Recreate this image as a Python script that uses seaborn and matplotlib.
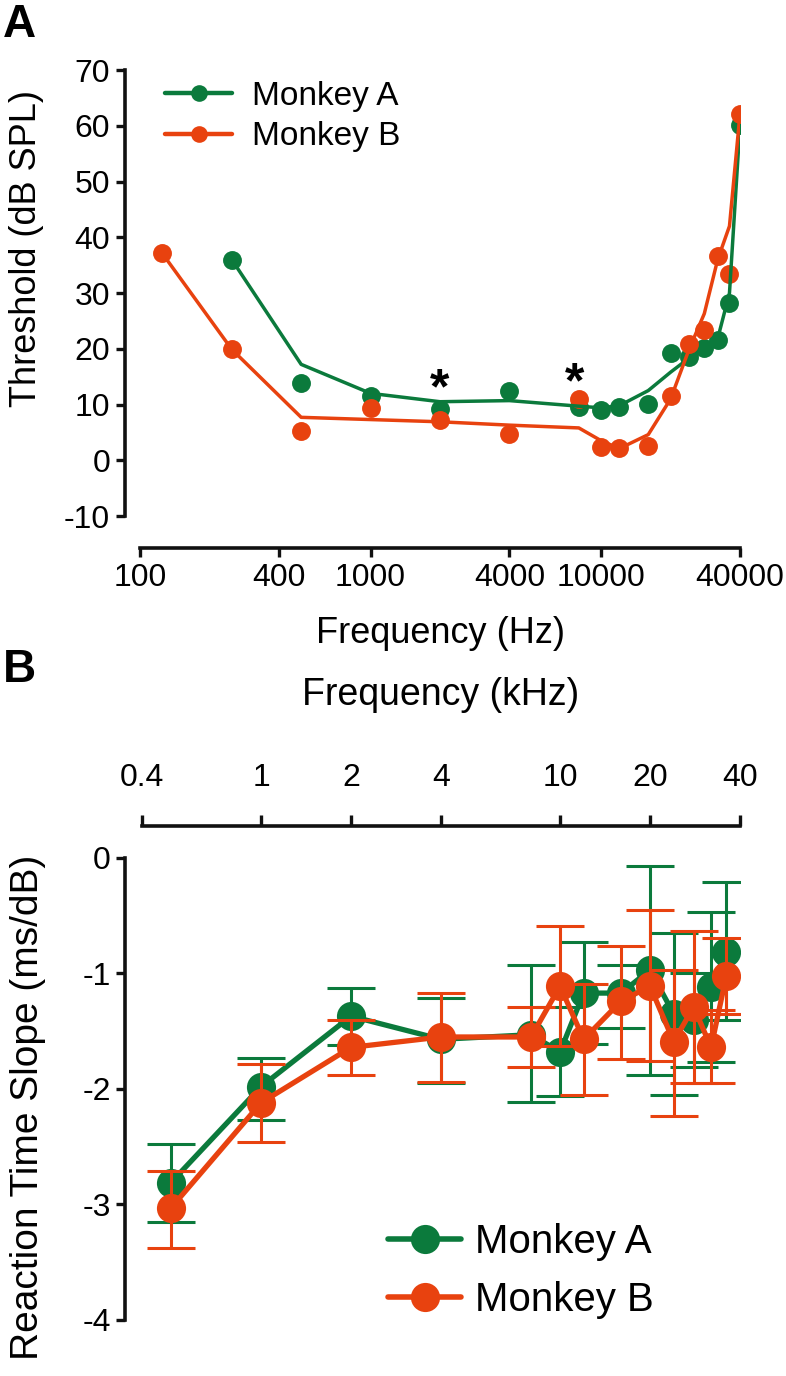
import numpy as np
import matplotlib
matplotlib.use("Agg")
import matplotlib.pyplot as plt
import seaborn as sns
from matplotlib.lines import Line2D
from matplotlib.ticker import FixedLocator, FixedFormatter, NullLocator

green = "#0b7a3c"
orange = "#e8420f"
ink = "#111111"

# ---- panel A: behavioural thresholds (dB SPL) ----
freq_a_green = [250, 500, 1000, 2000, 4000, 8000, 10000, 12000, 16000,
                20000, 24000, 28000, 32000, 36000, 40000]
thr_a_green = [36.0, 13.9, 11.5, 9.2, 12.5, 9.6, 9.1, 9.5, 10.1,
               19.3, 18.5, 20.2, 21.6, 28.2, 60.2]
fit_a_green = [36.0, 17.2, 12.0, 10.5, 10.7, 9.7, 9.4, 9.8, 12.5,
               15.8, 18.3, 19.8, 21.8, 30.0, 60.2]

freq_a_orange = [125, 250, 500, 1000, 2000, 4000, 8000, 10000, 12000,
                 16000, 20000, 24000, 28000, 32000, 36000, 40000]
thr_a_orange = [37.1, 19.9, 5.2, 9.4, 7.3, 4.7, 11.0, 2.4, 2.2,
                2.5, 11.5, 20.9, 23.3, 36.6, 33.4, 62.2]
fit_a_orange = [37.1, 19.9, 7.7, 7.3, 6.9, 6.3, 5.8, 3.5, 2.1,
                4.6, 11.0, 19.8, 26.3, 36.0, 42.0, 62.2]

star_freqs = [2000, 7700]
star_levels = [12.6, 13.6]

xticks_a = [100, 400, 1000, 4000, 10000, 40000]
yticks_a = [-10, 0, 10, 20, 30, 40, 50, 60, 70]

# ---- panel B: reaction time slope (ms/dB) ----
freq_b = [0.5, 1, 2, 4, 8, 10, 12, 16, 20, 24, 28, 32, 36]
slope_green = [-2.81, -1.98, -1.37, -1.57, -1.53, -1.68, -1.17, -1.17,
               -0.97, -1.35, -1.40, -1.12, -0.81]
low_green = [-3.15, -2.27, -1.62, -1.95, -2.11, -2.06, -1.61, -1.47,
             -1.88, -2.05, -1.81, -1.77, -1.40]
high_green = [-2.48, -1.73, -1.13, -1.21, -0.93, -1.29, -0.73, -0.93,
              -0.07, -0.65, -1.00, -0.47, -0.21]
slope_orange = [-3.03, -2.12, -1.64, -1.55, -1.55, -1.11, -1.57, -1.24,
                -1.11, -1.59, -1.29, -1.64, -1.02]
low_orange = [-3.38, -2.46, -1.88, -1.94, -1.81, -1.63, -2.05, -1.74,
              -1.76, -2.23, -1.95, -1.95, -1.35]
high_orange = [-2.71, -1.78, -1.40, -1.17, -1.29, -0.59, -1.09, -0.76,
               -0.45, -0.97, -0.63, -1.32, -0.69]

xticks_b = [0.4, 1, 2, 4, 10, 20, 40]
xticklabels_b = ["0.4", "1", "2", "4", "10", "20", "40"]
yticks_b = [-4, -3, -2, -1, 0]

sns.set_style("ticks")
plt.rcParams["font.family"] = ["Liberation Sans", "DejaVu Sans"]
plt.rcParams["text.color"] = "black"
plt.rcParams["axes.labelcolor"] = "black"
plt.rcParams["xtick.color"] = "black"
plt.rcParams["ytick.color"] = "black"

fig = plt.figure(figsize=(7.86, 13.76), dpi=100)
axA = fig.add_axes([0.1781, 0.625, 0.7634, 0.3241])
axB = fig.add_axes([0.1807, 0.0407, 0.7608, 0.3358])

# panel A
for f, fit, thr, col in [(freq_a_green, fit_a_green, thr_a_green, green),
                         (freq_a_orange, fit_a_orange, thr_a_orange, orange)]:
    sns.lineplot(x=f, y=fit, color=col, lw=2.5, sort=False, ax=axA)
    sns.scatterplot(x=f, y=thr, color=col, s=185, linewidth=0, ax=axA)

for f, lev in zip(star_freqs, star_levels):
    axA.text(f, lev, "*", ha="center", va="center", fontsize=36,
             fontweight="bold", color="black")

axA.set_xscale("log")
axA.set_xlim(100, 40000)
axA.set_ylim(-10, 70)
axA.xaxis.set_major_locator(FixedLocator(xticks_a))
axA.xaxis.set_major_formatter(FixedFormatter([str(t) for t in xticks_a]))
axA.xaxis.set_minor_locator(NullLocator())
axA.set_yticks(yticks_a)
axA.set_yticklabels([str(t) for t in yticks_a])
sns.despine(ax=axA)
axA.spines["left"].set_position(("outward", 11))
axA.spines["bottom"].set_position(("outward", 23))
axA.spines["left"].set_bounds(-10, 70)
axA.spines["bottom"].set_bounds(100, 40000)
for s in ["left", "bottom"]:
    axA.spines[s].set_linewidth(2.6)
    axA.spines[s].set_color(ink)
axA.tick_params(width=2.4, length=6.5, labelsize=23, color=ink, pad=4)
axA.set_xlabel("Frequency (Hz)", fontsize=26)
axA.set_ylabel("Threshold (dB SPL)", fontsize=26)
axA.xaxis.set_label_coords(0.5, -0.225)
axA.yaxis.set_label_coords(-0.16, 0.60)

handles_a = [Line2D([0], [0], color=green, lw=3.2, marker="o", ms=12, mec="none"),
             Line2D([0], [0], color=orange, lw=3.2, marker="o", ms=12, mec="none")]
axA.legend(handles_a, ["Monkey A", "Monkey B"], loc="upper left",
           bbox_to_anchor=(0.02, 1.005), frameon=False, fontsize=24,
           handlelength=2.0, handletextpad=0.6, labelspacing=0.28,
           borderaxespad=0)

# panel B
for f, m, lo, hi, col in [(freq_b, slope_green, low_green, high_green, green),
                          (freq_b, slope_orange, low_orange, high_orange, orange)]:
    m_arr = np.array(m)
    yerr = [m_arr - np.array(lo), np.array(hi) - m_arr]
    axB.errorbar(f, m, yerr=yerr, fmt="none", ecolor=col, elinewidth=2.2,
                 capsize=17, capthick=2.2)
    sns.lineplot(x=f, y=m, color=col, lw=3.8, marker="o", markersize=21,
                 markeredgewidth=0, sort=False, ax=axB)

axB.set_xscale("log")
axB.set_xlim(0.4, 40)
axB.set_ylim(-4, 0)
axB.xaxis.tick_top()
axB.xaxis.set_label_position("top")
axB.xaxis.set_major_locator(FixedLocator(xticks_b))
axB.xaxis.set_major_formatter(FixedFormatter(xticklabels_b))
axB.xaxis.set_minor_locator(NullLocator())
axB.set_yticks(yticks_b)
axB.set_yticklabels([str(t) for t in yticks_b])
axB.spines["right"].set_visible(False)
axB.spines["bottom"].set_visible(False)
axB.spines["top"].set_position(("outward", 23))
axB.spines["left"].set_position(("outward", 12))
axB.spines["top"].set_bounds(0.4, 40)
axB.spines["left"].set_bounds(-4, 0)
for s in ["left", "top"]:
    axB.spines[s].set_linewidth(2.6)
    axB.spines[s].set_color(ink)
axB.tick_params(axis="y", width=2.4, length=6.5, labelsize=23, color=ink, pad=4)
axB.tick_params(axis="x", width=2.4, length=8, labelsize=23, color=ink, pad=16)
axB.set_xlabel("Frequency (kHz)", fontsize=27)
axB.set_ylabel("Reaction Time Slope (ms/dB)", fontsize=28)
axB.xaxis.set_label_coords(0.5, 1.33)
axB.yaxis.set_label_coords(-0.16, 0.46)

handles_b = [Line2D([0], [0], color=green, lw=4, marker="o", ms=21, mec="none"),
             Line2D([0], [0], color=orange, lw=4, marker="o", ms=21, mec="none")]
axB.legend(handles_b, ["Monkey A", "Monkey B"], loc="upper left",
           bbox_to_anchor=(0.385, 0.245), frameon=False, fontsize=29,
           handlelength=1.8, handletextpad=0.35, labelspacing=0.5,
           borderaxespad=0)

fig.text(0.004, 0.998, "A", fontsize=33, fontweight="bold", va="top", ha="left")
fig.text(0.004, 1 - 648 / 1376, "B", fontsize=33, fontweight="bold", va="top", ha="left")

fig.savefig("out.png", dpi=100)
